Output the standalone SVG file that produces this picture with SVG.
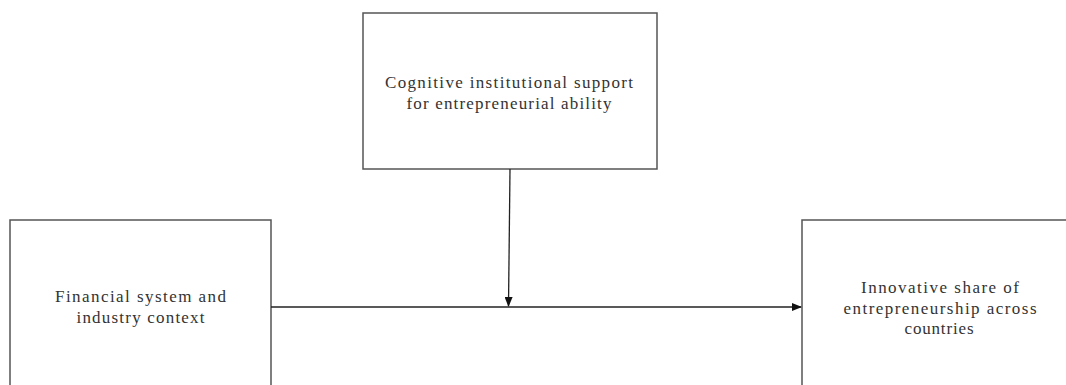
<svg xmlns="http://www.w3.org/2000/svg" width="1066" height="385" viewBox="0 0 1066 385">
<style>
.box{fill:#fff;stroke:#555;stroke-width:1.5}
.t{font-family:"Liberation Serif","Times New Roman",serif;font-size:17px;fill:#333;text-anchor:middle}
.c{stroke:#222;stroke-width:1.3;fill:none}
</style>
<defs>
<marker id="ah" markerWidth="10" markerHeight="8" refX="9" refY="4" orient="auto" markerUnits="userSpaceOnUse">
<path d="M0,0 L10,4 L0,8 Z" fill="#111"/>
</marker>
</defs>
<rect width="1066" height="385" fill="#fff"/>
<g id="node-cognitive">
<rect class="box" x="363" y="13" width="294" height="156"/>
<text class="t" x="509" y="88" textLength="248" lengthAdjust="spacing">Cognitive institutional support</text>
<text class="t" x="509" y="109" textLength="205" lengthAdjust="spacing">for entrepreneurial ability</text>
</g>
<g id="node-financial">
<rect class="box" x="10" y="220" width="261" height="180"/>
<text class="t" x="140.5" y="302" textLength="171" lengthAdjust="spacing">Financial system and</text>
<text class="t" x="140.5" y="323" textLength="128" lengthAdjust="spacing">industry context</text>
</g>
<g id="node-innovative">
<rect class="box" x="802" y="220" width="280" height="180"/>
<text class="t" x="940" y="293" textLength="158" lengthAdjust="spacing">Innovative share of</text>
<text class="t" x="940" y="314" textLength="193" lengthAdjust="spacing">entrepreneurship across</text>
<text class="t" x="939" y="334" textLength="69" lengthAdjust="spacing">countries</text>
</g>
<g id="connectors">
<line class="c" x1="510" y1="169" x2="508.5" y2="306" marker-end="url(#ah)"/>
<line class="c" x1="271" y1="307" x2="801" y2="307" marker-end="url(#ah)"/>
</g>
</svg>
